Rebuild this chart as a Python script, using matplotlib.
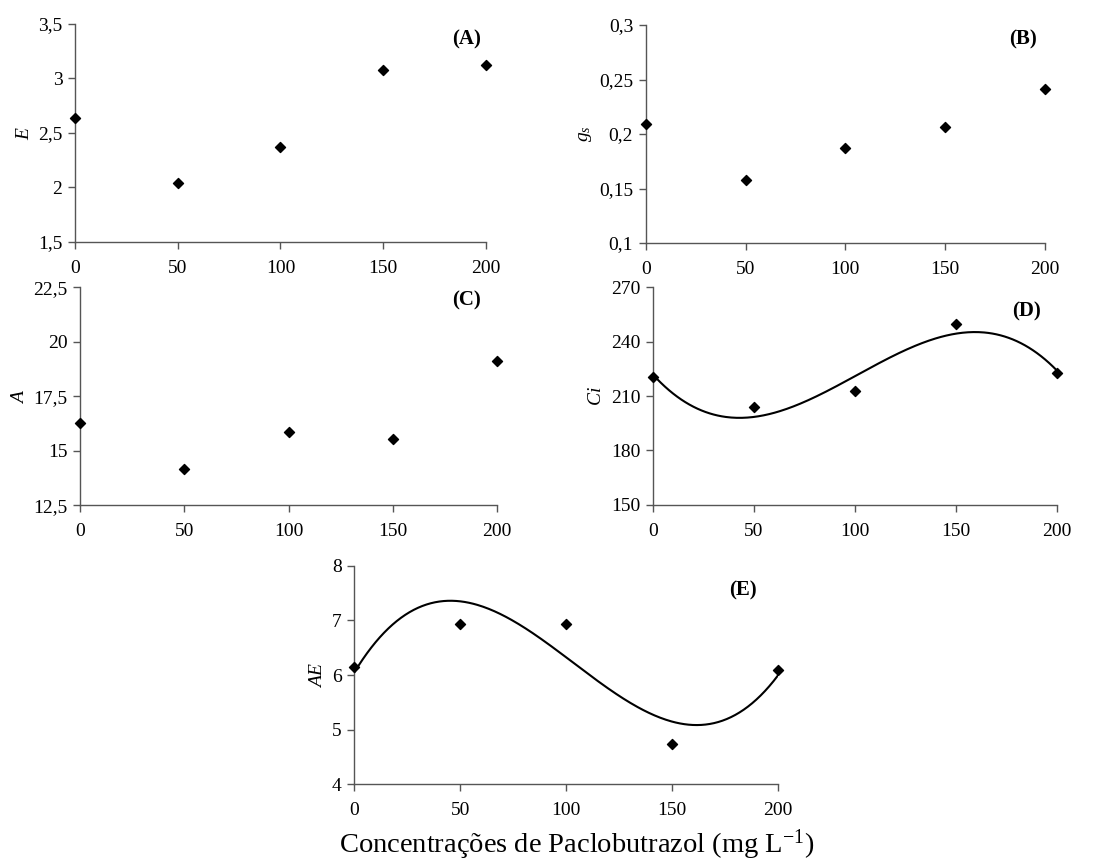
import numpy as np
import matplotlib
matplotlib.use("Agg")
import matplotlib.pyplot as plt
from matplotlib.ticker import FuncFormatter

plt.rcParams['font.family'] = ['Liberation Serif', 'DejaVu Serif']
plt.rcParams['mathtext.fontset'] = 'custom'
plt.rcParams['mathtext.rm'] = 'Liberation Serif'
plt.rcParams['mathtext.it'] = 'Liberation Serif:italic'

# doses de paclobutrazol (mg L-1)
doses = [0, 50, 100, 150, 200]

E_vals = [2.64, 2.04, 2.37, 3.08, 3.12]
gs_vals = [0.209, 0.158, 0.187, 0.206, 0.241]
A_vals = [16.28, 14.18, 15.88, 15.55, 19.1]
Ci_vals = [220.6, 203.9, 212.8, 249.9, 222.5]
AE_vals = [6.15, 6.94, 6.94, 4.74, 6.09]

panels = [
    # (values, ylabel, letter, ylim, yticks, axes rect, letter pos, fit)
    (E_vals, r'$E$', '(A)', (1.5, 3.5), [1.5, 2, 2.5, 3, 3.5],
     [0.0674, 0.7206, 0.3696, 0.2517], (0.954, 0.93), False),
    (gs_vals, r'$g_s$', '(B)', (0.1, 0.3), [0.1, 0.15, 0.2, 0.25, 0.3],
     [0.5807, 0.7194, 0.3591, 0.2517], (0.944, 0.934), False),
    (A_vals, r'$A$', '(C)', (12.5, 22.5), [12.5, 15, 17.5, 20, 22.5],
     [0.0722, 0.4165, 0.3745, 0.2517], (0.928, 0.94), False),
    (Ci_vals, r'$Ci$', '(D)', (150, 270), [150, 180, 210, 240, 270],
     [0.587, 0.4172, 0.3638, 0.251], (0.924, 0.888), True),
    (AE_vals, r'$AE$', '(E)', (4, 8), [4, 5, 6, 7, 8],
     [0.3186, 0.0943, 0.3808, 0.2524], (0.919, 0.886), True),
]

fmt = FuncFormatter(lambda v, pos: f'{v:g}'.replace('.', ','))

fig = plt.figure(figsize=(11.12, 8.66), dpi=100)

for vals, ylab, letter, ylim, yticks, rect, lpos, fit in panels:
    ax = fig.add_axes(rect)
    ax.scatter(doses, vals, marker='D', s=26, color='black', zorder=3, clip_on=False)
    if fit:
        # linha de tendencia polinomial de 3o grau
        coef = np.polyfit(doses, vals, 3)
        xs = np.linspace(0, 200, 300)
        ax.plot(xs, np.polyval(coef, xs), color='black', lw=1.5)
    ax.set_xlim(0, 200)
    ax.set_ylim(*ylim)
    ax.set_xticks(doses)
    ax.set_yticks(yticks)
    ax.yaxis.set_major_formatter(fmt)
    for s in ['top', 'right']:
        ax.spines[s].set_visible(False)
    for s in ['left', 'bottom']:
        ax.spines[s].set_color('#555555')
        ax.spines[s].set_linewidth(1.0)
    ax.tick_params(axis='both', direction='out', length=5, width=1.0,
                   color='#555555', labelsize=14, pad=4)
    ax.tick_params(axis='x', pad=8)
    ax.set_ylabel(ylab, fontsize=14, labelpad=4)
    ax.text(lpos[0], lpos[1], letter, transform=ax.transAxes, fontsize=15,
            fontweight='bold', ha='center', va='center')

fig.text(0.519, 0.025, r'Concentrações de Paclobutrazol (mg L$^{\mathregular{-1}}$)',
         fontsize=20.5, ha='center', va='center')

fig.savefig('out.png', dpi=100)
